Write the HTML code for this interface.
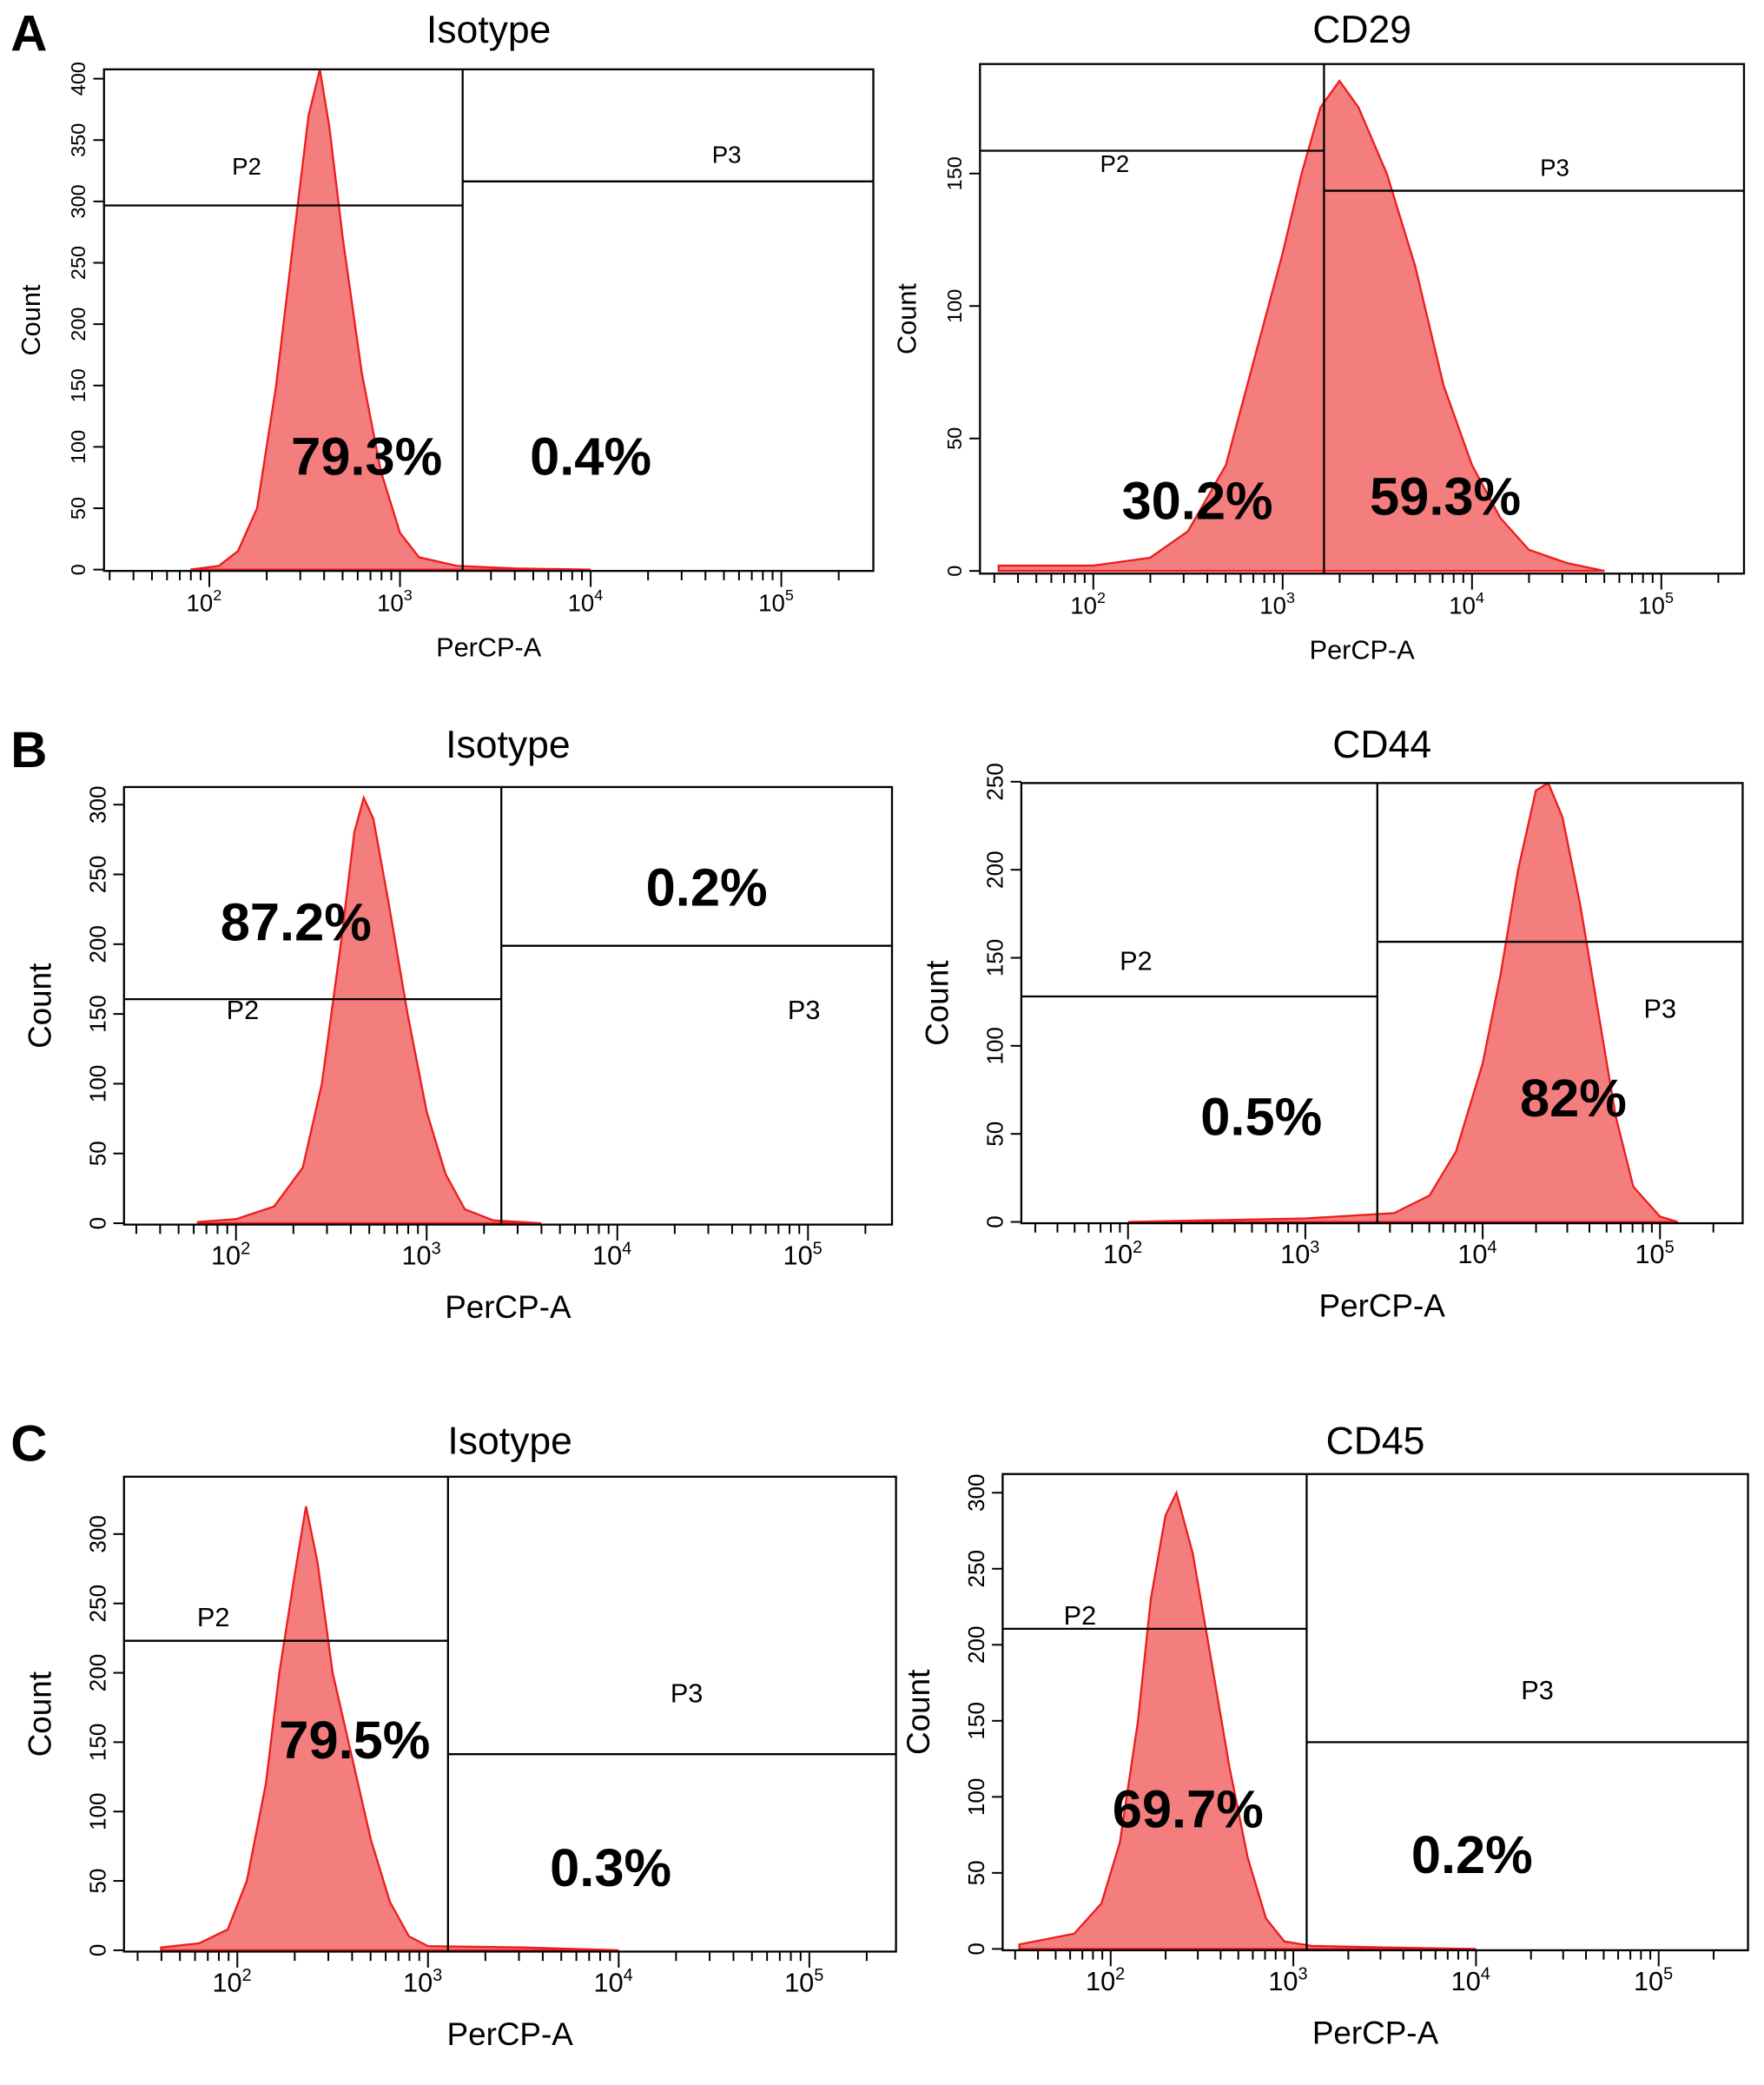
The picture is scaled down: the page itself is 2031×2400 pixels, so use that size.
<!DOCTYPE html>
<html><head><meta charset="utf-8"><style>
html,body{margin:0;padding:0;background:#fff}
svg{display:block}
text{font-family:"Liberation Sans",Arial,sans-serif}
</style></head><body>
<svg id="fig" width="2031" height="2400" viewBox="0 0 1323 1563" preserveAspectRatio="none" xmlns="http://www.w3.org/2000/svg"></svg>
<script>
// Histogram data: [log10(PerCP-A), count]
const histAIso=[[1.9,0],[2.05,3],[2.15,15],[2.25,50],[2.35,150],[2.45,280],[2.52,370],[2.58,410],[2.63,360],[2.7,270],[2.8,160],[2.9,80],[3.0,30],[3.1,10],[3.3,3],[3.6,1],[4.0,0]];
const histCD29=[[1.5,2],[2.0,2],[2.3,5],[2.5,15],[2.7,40],[2.85,80],[3.0,120],[3.1,150],[3.2,175],[3.3,185],[3.4,175],[3.55,150],[3.7,115],[3.85,70],[4.0,40],[4.15,20],[4.3,8],[4.5,3],[4.7,0]];
const histBIso=[[1.8,1],[2.0,3],[2.2,12],[2.35,40],[2.45,100],[2.55,200],[2.62,280],[2.67,305],[2.72,290],[2.8,230],[2.9,150],[3.0,80],[3.1,35],[3.2,10],[3.35,2],[3.6,0]];
const histCD44=[[2.0,0],[3.0,2],[3.5,5],[3.7,15],[3.85,40],[4.0,90],[4.1,140],[4.2,200],[4.3,245],[4.37,250],[4.45,230],[4.55,180],[4.65,120],[4.75,60],[4.85,20],[5.0,3],[5.1,0]];
const histCIso=[[1.6,2],[1.8,5],[1.95,15],[2.05,50],[2.15,120],[2.22,200],[2.3,270],[2.36,320],[2.42,280],[2.5,200],[2.6,140],[2.7,80],[2.8,35],[2.9,10],[3.0,3],[3.5,2],[4.0,0]];
const histCD45=[[1.5,3],[1.8,10],[1.95,30],[2.05,70],[2.15,150],[2.22,230],[2.3,285],[2.36,300],[2.45,260],[2.55,190],[2.65,120],[2.75,60],[2.85,20],[2.95,5],[3.1,2],[3.5,1],[4.0,0]];
const yTicksA1=[0,50,100,150,200,250,300,350,400];
const yTicksA2=[0,50,100,150];
const yTicks300=[0,50,100,150,200,250,300];
const yTicks250=[0,50,100,150,200,250];
const xDecades=[2,3,4,5];
const pctAIso=["79.3%","0.4%"],pctCD29=["30.2%","59.3%"],pctBIso=["87.2%","0.2%"],pctCD44=["0.5%","82%"],pctCIso=["79.5%","0.3%"],pctCD45=["69.7%","0.2%"];

const NS="http://www.w3.org/2000/svg";
const svg=document.getElementById('fig');
function mk(tag,attrs,parent,txt){const e=document.createElementNS(NS,tag);for(const k in attrs)e.setAttribute(k,attrs[k]);if(txt!==undefined)e.textContent=txt;(parent||svg).appendChild(e);return e;}

const panels=[
 {id:'a-isotype',title:'Isotype',box:[78,52,655,428],x2:157,dec:143,y0:427,yPer50:46,ticks:yTicksA1,hist:histAIso,
  gx:347,p2y:154,p3y:136,p2l:[185,125],p3l:[545,116],pct:pctAIso,pp:[[275,342],[443,342]],fs:18,xl:20,ty:22},
 {id:'cd29',title:'CD29',box:[735,48,1308,430],x2:820,dec:142,y0:428,yPer50:99.3,ticks:yTicksA2,hist:histCD29,
  gx:993,p2y:113,p3y:143,p2l:[836,123],p3l:[1166,126],pct:pctCD29,pp:[[898,375],[1084,372]],fs:18,xl:20,ty:22},
 {id:'b-isotype',title:'Isotype',box:[93,590,669,918],x2:177,dec:143,y0:917,yPer50:52.3,ticks:yTicks300,hist:histBIso,
  gx:376,p2y:749,p3y:709,p2l:[182,758],p3l:[603,758],pct:pctBIso,pp:[[222,691],[530,665]],fs:20,xl:24,ty:558},
 {id:'cd44',title:'CD44',box:[766,587,1307,917],x2:846,dec:133,y0:916,yPer50:66,ticks:yTicks250,hist:histCD44,
  gx:1033,p2y:747,p3y:706,p2l:[852,721],p3l:[1245,757],pct:pctCD44,pp:[[946,837],[1180,823]],fs:20,xl:24,ty:558},
 {id:'c-isotype',title:'Isotype',box:[93,1107,672,1463],x2:178,dec:143,y0:1462,yPer50:52,ticks:yTicks300,hist:histCIso,
  gx:336,p2y:1230,p3y:1315,p2l:[160,1213],p3l:[515,1270],pct:pctCIso,pp:[[266,1304],[458,1400]],fs:20,xl:24,ty:1080},
 {id:'cd45',title:'CD45',box:[752,1105,1311,1462],x2:833,dec:137,y0:1461,yPer50:57,ticks:yTicks300,hist:histCD45,
  gx:980,p2y:1221,p3y:1306,p2l:[810,1212],p3l:[1153,1268],pct:pctCD45,pp:[[891,1356],[1104,1390]],fs:20,xl:24,ty:1080}
];

[['A',8,38],['B',8,575],['C',8,1095]].forEach(([t,x,y])=>{
 const e=mk('text',{x:x,y:y,'font-size':38,'font-weight':'bold'},svg,t);
 
 
});

panels.forEach(p=>{
 const g=mk('g',{});
 
 
 const [L,T,R,B]=p.box;
 const xs=v=>p.x2+(v-2)*p.dec;
 const ys=c=>p.y0-c/50*p.yPer50;
 // histogram
 let d='M'+xs(p.hist[0][0]).toFixed(1)+','+p.y0;
 p.hist.forEach(([lx,c])=>{d+=' L'+Math.max(L,xs(lx)).toFixed(1)+','+Math.max(T,ys(c)).toFixed(1);});
 d+=' L'+xs(p.hist[p.hist.length-1][0]).toFixed(1)+','+p.y0+' Z';
 const h=mk('path',{d:d,fill:'#f47d7d',stroke:'#ee1c1c','stroke-width':1.5},g);
 
 
 // box
 const bx=mk('rect',{x:L,y:T,width:R-L,height:B-T,fill:'none',stroke:'#000','stroke-width':1.5},g);
 
 
 // gates
 const gv=mk('line',{x1:p.gx,y1:T,x2:p.gx,y2:B,stroke:'#000','stroke-width':1.5},g);
 
 
 const g2=mk('line',{x1:L,y1:p.p2y,x2:p.gx,y2:p.p2y,stroke:'#000','stroke-width':1.5},g);
 
 
 const g3=mk('line',{x1:p.gx,y1:p.p3y,x2:R,y2:p.p3y,stroke:'#000','stroke-width':1.5},g);
 
 
 const l2=mk('text',{x:p.p2l[0],y:p.p2l[1]+6,'font-size':p.fs,'text-anchor':'middle'},g,'P2');
 
 
 const l3=mk('text',{x:p.p3l[0],y:p.p3l[1]+6,'font-size':p.fs,'text-anchor':'middle'},g,'P3');
 
 
 p.pct.forEach((t,i)=>{
  const e=mk('text',{x:p.pp[i][0],y:p.pp[i][1]+14,'font-size':40,'font-weight':'bold','text-anchor':'middle'},g,t);
  
  
 });
 // title
 const tt=mk('text',{x:(L+R)/2,y:p.ty+10,'font-size':29,'text-anchor':'middle'},g,p.title);
 
 
 // x-axis ticks
 const ax=mk('g',{stroke:'#000','stroke-width':1.3},g);
 
 
 for(let dd=1;dd<=5;dd++){for(let m=1;m<10;m++){const v=dd+Math.log10(m);const x=xs(v);if(x<L+2||x>R-2)continue;
  mk('line',{x1:x,y1:B,x2:x,y2:B+(m==1?12:7)},ax);}}
 xDecades.forEach(dd=>{
  const x=xs(dd);
  const t=mk('text',{x:x-4,y:B+30,'font-size':p.fs,'text-anchor':'middle'},g);
  
  
  t.appendChild(document.createTextNode('10'));
  const s=mk('tspan',{dy:-8,'font-size':p.fs*0.65},t,String(dd));
 });
 const xl=mk('text',{x:(L+R)/2,y:B+(p.xl>20?70:64),'font-size':p.xl,'text-anchor':'middle'},g,'PerCP-A');
 
 
 // y-axis
 const ay=mk('g',{stroke:'#000','stroke-width':1.3},g);
 
 
 p.ticks.forEach(v=>{
  const y=ys(v);
  mk('line',{x1:L-8,y1:y,x2:L,y2:y},ay);
  const t=mk('text',{x:L-14,y:y,'font-size':p.fs*0.85,'text-anchor':'middle',transform:'rotate(-90 '+(L-14)+' '+y+')'},g,String(v));
  
  
 });
 const cy=(T+B)/2, cx=L-(p.xl>20?55:48);
 const yl=mk('text',{x:cx,y:cy,'font-size':p.xl,'text-anchor':'middle',transform:'rotate(-90 '+cx+' '+cy+')'},g,'Count');
 
 
});
</script>
</body></html>
